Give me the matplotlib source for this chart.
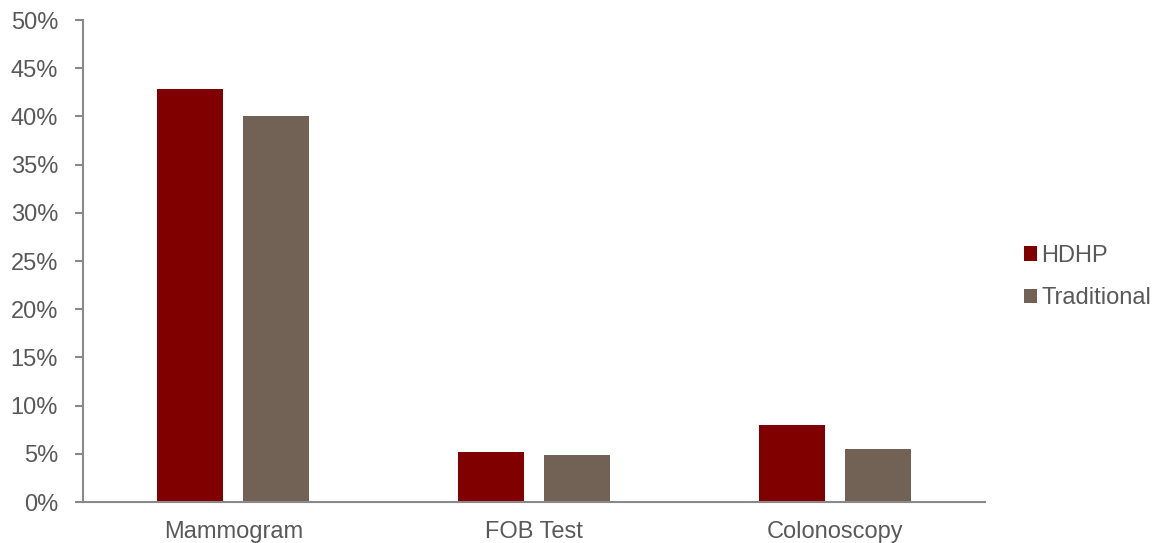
import matplotlib
matplotlib.use('Agg')
import matplotlib.pyplot as plt
import numpy as np

categories = ['Mammogram', 'FOB Test', 'Colonoscopy']
hdhp = [42.9, 5.15, 7.95]
traditional = [40.1, 4.9, 5.45]
yticks = [0, 5, 10, 15, 20, 25, 30, 35, 40, 45, 50]

plt.rcParams['font.family'] = ['Liberation Sans', 'DejaVu Sans']
text_color = '#595959'
axis_color = '#898989'
fs = 17

fig = plt.figure(figsize=(11.54, 5.43), dpi=100)
ax = fig.add_axes([0.072, 0.0755, 0.7816, 0.8875])

x = np.arange(len(categories))
w = 0.22
ax.bar(x - 0.143, hdhp, w, color='#800000', label='HDHP')
ax.bar(x + 0.143, traditional, w, color='#726256', label='Traditional')

ax.set_xlim(-0.5, 2.5)
ax.set_ylim(0, 50)
ax.set_yticks(yticks)
ax.set_yticklabels([f'{t}%' for t in yticks])
ax.set_xticks(x)
ax.set_xticklabels(categories)

for s in ['top', 'right']:
    ax.spines[s].set_visible(False)
for s in ['left', 'bottom']:
    ax.spines[s].set_color(axis_color)
    ax.spines[s].set_linewidth(1.5)
ax.tick_params(axis='y', colors=axis_color, labelcolor=text_color, labelsize=fs,
               length=6, width=1.5, pad=12)
ax.tick_params(axis='x', length=0, labelcolor=text_color, labelsize=fs, pad=14)

ax.legend(loc='center left', bbox_to_anchor=(1.0195, 0.467), frameon=False, fontsize=fs,
          labelcolor=text_color, handlelength=0.55, handleheight=0.55, handletextpad=0.2,
          labelspacing=0.85)

fig.savefig('out.png', dpi=100)
